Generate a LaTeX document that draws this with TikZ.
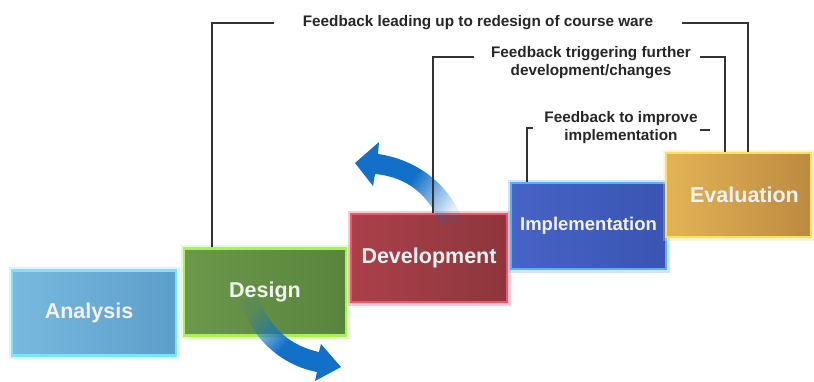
\documentclass[tikz,border=0pt]{standalone}
\usepackage{fontspec}
\setmainfont{Liberation Sans}
\usetikzlibrary{fadings}

\definecolor{anaL}{RGB}{120,185,222}
\definecolor{anaR}{RGB}{92,158,202}
\definecolor{anaGlow}{RGB}{130,225,250}
\definecolor{desL}{RGB}{108,152,76}
\definecolor{desR}{RGB}{88,132,60}
\definecolor{desGlow}{RGB}{170,240,90}
\definecolor{devL}{RGB}{170,64,74}
\definecolor{devR}{RGB}{142,54,60}
\definecolor{devGlow}{RGB}{240,85,110}
\definecolor{impL}{RGB}{70,100,198}
\definecolor{impR}{RGB}{58,84,178}
\definecolor{impGlow}{RGB}{95,175,240}
\definecolor{evaL}{RGB}{226,180,86}
\definecolor{evaR}{RGB}{188,138,64}
\definecolor{evaGlow}{RGB}{255,222,100}
\definecolor{swooshblue}{RGB}{18,112,200}

% middle color has to come last, left/right reset it
\tikzfading[name=swooshfade, left color=transparent!90, right color=transparent!0, middle color=transparent!0]

\tikzstyle{stage} = [rectangle, line width=2.5pt, text centered, text=white!95!black, font=\bfseries\fontsize{21.5}{25}\selectfont]
\tikzstyle{feedback} = [align=center, inner sep=0pt, text=black!85, font=\bfseries\fontsize{15.3}{18}\selectfont]
\tikzstyle{loop} = [line width=1.8pt, black!80]
\tikzstyle{swoosh} = [fill=swooshblue, path fading=swooshfade]
\tikzset{glow/.style={draw=#1, preaction={draw=#1, line width=7pt, draw opacity=.3}}}

\begin{document}
\begin{tikzpicture}[x=1pt, y=-1pt]
    \useasboundingbox (0,0) rectangle (814,381);

    % the five stages, climbing to the right
    \node [stage, minimum width=164pt, minimum height=85pt, left color=anaL, right color=anaR, glow=anaGlow] at (94,313) (analysis) {Analysis\hspace*{10pt}};
    \node [stage, minimum width=162pt, minimum height=87pt, left color=desL, right color=desR, glow=desGlow] at (265,292) (design) {Design};
    \node [stage, minimum width=156pt, minimum height=88pt, left color=devL, right color=devR, glow=devGlow] at (429,258) (development) {Development};
    \node [stage, minimum width=155pt, minimum height=86pt, left color=impL, right color=impR, glow=impGlow, font=\bfseries\fontsize{18.5}{22}\selectfont] at (588.5,226) (implementation) {Implementation};
    \node [stage, minimum width=145pt, minimum height=84pt, left color=evaL, right color=evaR, glow=evaGlow] at (738.5,195) (evaluation) {\hspace*{12pt}Evaluation};

    % curved arrows
    \fill [swoosh, fading angle=-37] (240,300) .. controls (252,342) and (285,366) .. (317,372)
        -- (315,381) -- (341,367) -- (321,344) -- (319,352)
        .. controls (292,346) and (270,330) .. (258,296) -- cycle;
    \fill [swoosh, fading angle=152] (463,222) .. controls (452,188) and (420,160) .. (378,154)
        -- (379,142) -- (355,163) -- (373,186) -- (375,174)
        .. controls (408,177) and (430,196) .. (441,226) -- cycle;

    % feedback labels
    \node [feedback] at (478,23) (redesign) {Feedback leading up to redesign of course ware};
    \node [feedback] at (591,63) (changes) {Feedback triggering further\\development/changes};
    \node [feedback] at (621,128) (improve) {Feedback to improve\\implementation};

    % feedback loops
    \draw [loop] ([xshift=-53pt]design.north) |- ([xshift=-29pt]redesign.west);
    \draw [loop] ([xshift=29pt]redesign.east) -| ([xshift=9.5pt]evaluation.north);
    \draw [loop] ([xshift=4pt]development.north) |- ([xshift=-17pt,yshift=6pt]changes.west);
    \draw [loop] ([xshift=9pt,yshift=6pt]changes.east) -| ([xshift=-13.5pt]evaluation.north);
    \draw [loop] ([xshift=-61.5pt]implementation.north) |- ([xshift=-11.5pt]improve.west);
    \draw [loop] ([xshift=2pt,yshift=-2pt]improve.east) -- ([xshift=12pt,yshift=-2pt]improve.east);
\end{tikzpicture}
\end{document}
